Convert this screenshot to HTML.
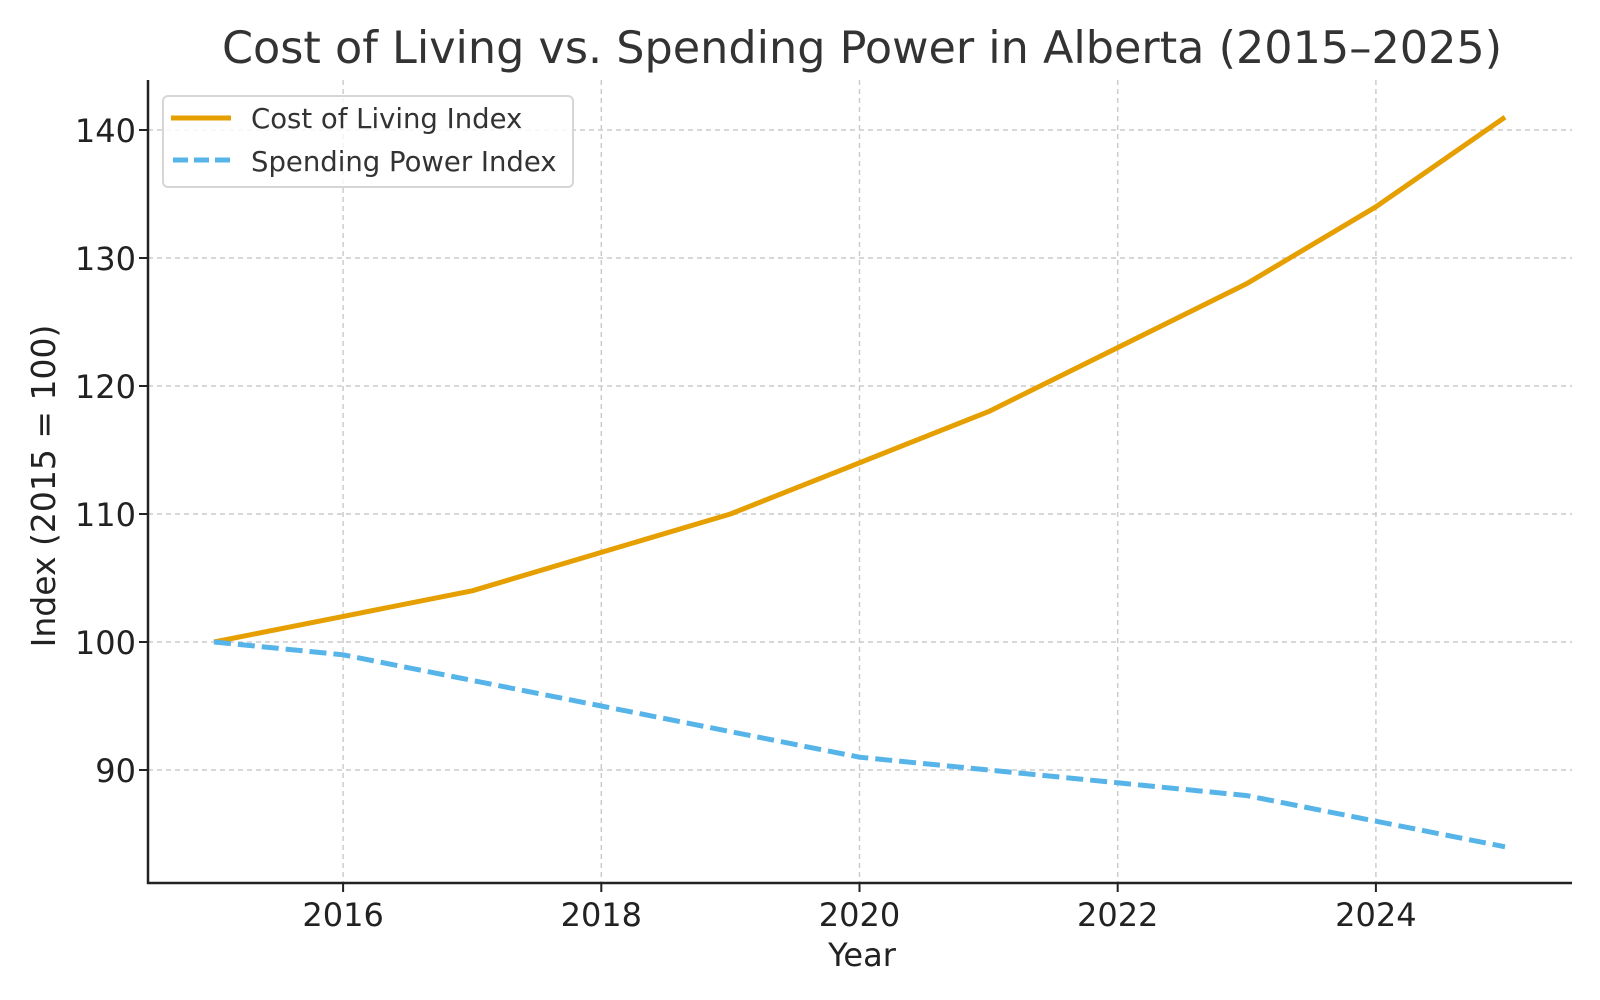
<!DOCTYPE html>
<html><head><meta charset="utf-8"><style>
html,body{margin:0;padding:0;background:#fff;}
svg{display:block;font-family:"DejaVu Sans","Liberation Sans",sans-serif;}
</style></head><body>
<svg id="chart" width="1600" height="1000" viewBox="0 0 1600 1000">
<text x="862" y="63" text-anchor="middle" font-size="44.5" fill="#333">Cost of Living vs. Spending Power in Alberta (2015–2025)</text>
<g id="grid"></g>
<g id="axes"></g>
<g id="series"></g>
<text x="862" y="966" text-anchor="middle" font-size="32" fill="#222">Year</text>
<text transform="translate(55,486) rotate(-90)" text-anchor="middle" font-size="33" fill="#222">Index (2015 = 100)</text>
<g>
<rect x="163" y="96" width="410" height="91" rx="5" fill="#fff" fill-opacity="0.8" stroke="#d6d6d6" stroke-width="2"/>
<line x1="171" y1="118" x2="231" y2="118" stroke="#E69F00" stroke-width="5"/>
<text x="251" y="128" font-size="27.5" fill="#333">Cost of Living Index</text>
<line x1="173" y1="160" x2="231" y2="160" stroke="#56B4E9" stroke-width="5" stroke-dasharray="15,6"/>
<text x="251" y="171" font-size="27.5" fill="#333">Spending Power Index</text>
</g>
</svg>
<script>
const years=[2015,2016,2017,2018,2019,2020,2021,2022,2023,2024,2025];
const costOfLiving=[100,102,104,107,110,114,118,123,128,134,141];
const spendingPower=[100,99,97,95,93,91,90,89,88,86,84];
const xTicks=[2016,2018,2020,2022,2024];
const yTicks=[90,100,110,120,130,140];
const L=148,R=1572,T=80,B=883;
const xScale=v=>214+(v-2015)*129.1;
const yScale=v=>642-(v-100)*12.8;
const NS="http://www.w3.org/2000/svg";
function mk(tag,attrs,parent){const e=document.createElementNS(NS,tag);for(const k in attrs)e.setAttribute(k,attrs[k]);parent.appendChild(e);return e;}
const grid=document.getElementById('grid'),axes=document.getElementById('axes'),series=document.getElementById('series');
xTicks.forEach(t=>{const x=xScale(t);
 const g=mk('line',{x1:x,x2:x,y1:T,y2:B,stroke:'#cccccc','stroke-width':1.5,'stroke-dasharray':'5,4'},grid);
 
 
 const tk=mk('line',{x1:x,x2:x,y1:B,y2:B+9,stroke:'#222','stroke-width':2},axes);
 
 
 const tx=mk('text',{x:x,y:B+43,'text-anchor':'middle','font-size':32,fill:'#222'},axes);tx.textContent=t;
 
 
});
yTicks.forEach(t=>{const y=yScale(t);
 const g=mk('line',{x1:L,x2:R,y1:y,y2:y,stroke:'#cccccc','stroke-width':1.5,'stroke-dasharray':'5,4'},grid);
 
 
 const tk=mk('line',{x1:L-9,x2:L,y1:y,y2:y,stroke:'#222','stroke-width':2},axes);
 
 
 const tx=mk('text',{x:L-12,y:y+12,'text-anchor':'end','font-size':32,fill:'#222'},axes);tx.textContent=t;
 
 
});
const ax=mk('path',{d:`M${L},${T} L${L},${B} L${R},${B}`,fill:'none',stroke:'#222','stroke-width':2.5},axes);


const p1=mk('polyline',{points:years.map((y,i)=>xScale(y)+','+yScale(costOfLiving[i])).join(' '),fill:'none',stroke:'#E69F00','stroke-width':5,'stroke-linejoin':'round'},series);


const p2=mk('polyline',{points:years.map((y,i)=>xScale(y)+','+yScale(spendingPower[i])).join(' '),fill:'none',stroke:'#56B4E9','stroke-width':5,'stroke-dasharray':'17,7'},series);


</script>
</body></html>
